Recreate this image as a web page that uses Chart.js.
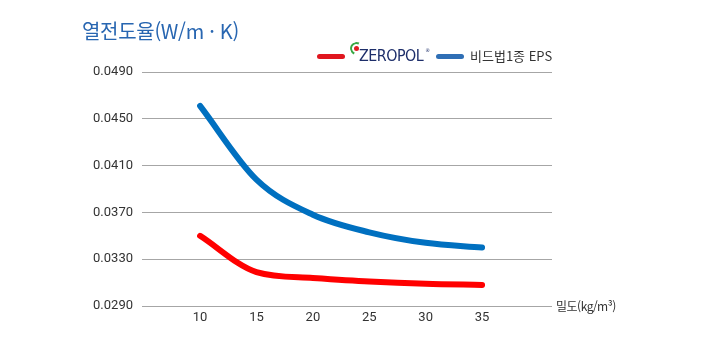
<!DOCTYPE html>
<html lang="ko">
<head>
<meta charset="utf-8">
<script src="https://cdn.jsdelivr.net/npm/chart.js@4/dist/chart.umd.min.js"></script>
<style>
  html, body { margin: 0; padding: 0; background: #fff; }
  #wrap { position: relative; width: 708px; height: 350px; overflow: hidden; }
  #chart { position: absolute; left: 0; top: 0; }
  .title { position: absolute; left: 82px; top: 16px; font: 20px "Noto Sans CJK KR", sans-serif; color: #2866b1; white-space: nowrap; letter-spacing: -0.3px; }
  .legend { position: absolute; top: 46px; height: 20px; font: 13px "Noto Sans CJK KR", sans-serif; color: #333; white-space: nowrap; }
  .swatch { position: absolute; top: 7px; width: 28px; height: 5px; border-radius: 3px; }
  .logo { position: absolute; left: 359px; top: 47px; font: 500 15px "DejaVu Sans", "Liberation Sans", sans-serif; color: #1d2e6a; letter-spacing: -0.5px; transform: scaleX(0.95); transform-origin: left top; white-space: nowrap; }
  .logo sup { font-size: 5px; vertical-align: top; margin-left: 2px; }
  .ring { position: absolute; left: 350px; top: 42px; width: 9px; height: 9px; border-radius: 50%; border: 2px solid #3aa845; border-right-color: transparent; border-bottom-color: transparent; transform: rotate(-20deg); }
  .dot { position: absolute; left: 354px; top: 46px; width: 5px; height: 5px; border-radius: 50%; background: #e21c22; }
  .xtitle { position: absolute; left: 556px; top: 297px; font: 12px "Noto Sans CJK KR", sans-serif; color: #333; white-space: nowrap; letter-spacing: -0.5px; }
</style>
</head>
<body>
<div id="wrap">
  <canvas id="chart" width="708" height="350"></canvas>
  <div class="title">열전도율(W/m · K)</div>
  <div class="swatch" style="left:317px; top:54px; background:#e0161f;"></div>
  <div class="logo">ZEROPOL<sup>®</sup></div>
  <div class="ring"></div>
  <div class="dot"></div>
  <div class="swatch" style="left:436px; top:54px; background:#2f6fb5;"></div>
  <div class="legend" style="left:470px;">비드법1종 EPS</div>
  <div class="xtitle">밀도(kg/m³)</div>
</div>
<script>
// density (kg/m³)
const densities = [10, 15, 20, 25, 30, 35];
// thermal conductivity (W/m·K)
const zeropol = [0.0350, 0.0319, 0.0314, 0.0311, 0.0309, 0.0308];
const epsClass1 = [0.0461, 0.0398, 0.0368, 0.0353, 0.0344, 0.0340];
const yTicks = [0.0290, 0.0330, 0.0370, 0.0410, 0.0450, 0.0490];

const toPoints = vals => densities.map((d, i) => ({ x: d, y: vals[i] }));
const tickFont = { family: "Roboto, sans-serif", size: 13 };

new Chart(document.getElementById('chart'), {
  type: 'line',
  data: {
    datasets: [
      { label: 'ZEROPOL', data: toPoints(zeropol), borderColor: '#ff0000' },
      { label: '비드법1종 EPS', data: toPoints(epsClass1), borderColor: '#0070c0' }
    ]
  },
  options: {
    responsive: false,
    animation: false,
    layout: { padding: { left: 0, right: 156, top: 72, bottom: 0 } },
    elements: {
      line: { borderWidth: 6, borderCapStyle: 'round', borderJoinStyle: 'round', cubicInterpolationMode: 'monotone', fill: false },
      point: { radius: 0, hoverRadius: 0 }
    },
    plugins: { legend: { display: false }, tooltip: { enabled: false } },
    scales: {
      x: {
        type: 'linear',
        min: 4.85,
        max: 41.2,
        grid: { display: false, drawTicks: false },
        border: { display: false },
        afterBuildTicks: s => { s.ticks = densities.map(v => ({ value: v })); },
        afterFit: s => { s.height = 44; },
        ticks: { color: '#333', font: tickFont, padding: 4, maxRotation: 0 }
      },
      y: {
        min: 0.0290,
        max: 0.0490,
        grid: { color: '#a6a6a6', lineWidth: 1, drawTicks: false },
        border: { display: false },
        afterBuildTicks: s => { s.ticks = yTicks.map(v => ({ value: v })); },
        afterFit: s => { s.width = 142; },
        ticks: { color: '#333', font: tickFont, padding: 9, callback: v => v.toFixed(4) }
      }
    }
  }
});
</script>
</body>
</html>
